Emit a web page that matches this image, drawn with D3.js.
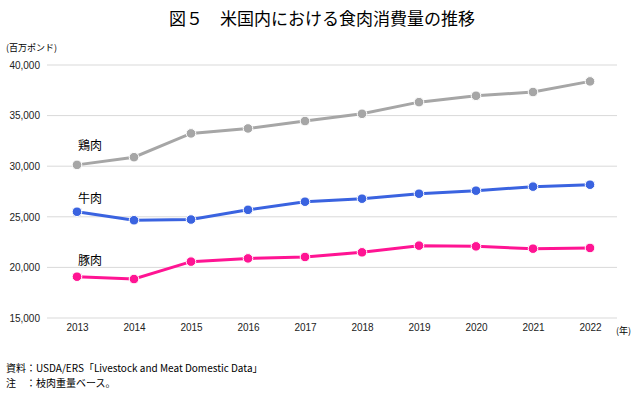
<!DOCTYPE html>
<html>
<head>
<meta charset="utf-8">
<script src="https://cdn.jsdelivr.net/npm/d3@7"></script>
<style>
  body { margin: 0; background: #fff; }
  svg { display: block; font-family: "Noto Sans CJK JP", "Noto Sans", sans-serif; }
</style>
</head>
<body>
<script>
// years on the x axis
var years = [2013, 2014, 2015, 2016, 2017, 2018, 2019, 2020, 2021, 2022]

// consumption, million pounds
var chicken = [30130, 30890, 33240, 33730, 34460, 35180, 36330, 36960, 37330, 38380]
var beef    = [25500, 24660, 24730, 25690, 26490, 26790, 27280, 27580, 27980, 28170]
var pork    = [19080, 18850, 20570, 20890, 21030, 21490, 22150, 22080, 21850, 21920]

var seriesNames = ["鶏肉", "牛肉", "豚肉"]
var yTicks = [15000, 20000, 25000, 30000, 35000, 40000]

var series = [
  {name: seriesNames[0], values: chicken, color: "#a6a6a6", labelY: 31650},
  {name: seriesNames[1], values: beef, color: "#3a63e0", labelY: 26350},
  {name: seriesNames[2], values: pork, color: "#ff1493", labelY: 20200}
]

var W = 640, H = 396

var svg = d3.select("body").append("svg")
    .attr("width", W)
    .attr("height", H)

var x = d3.scalePoint().domain(years).range([77, 590])
var y = d3.scaleLinear().domain([15000, 40000]).range([318, 65])

// title
svg.append("text")
    .attr("x", 322).attr("y", 25)
    .attr("text-anchor", "middle")
    .style("font-size", "17px")
    .style("font-weight", "400")
    .text("図５　米国内における食肉消費量の推移")

// unit label
svg.append("text")
    .attr("x", 6).attr("y", 51)
    .style("font-size", "9px")
    .text("(百万ポンド)")

// gridlines
svg.selectAll(".grid").data(yTicks).enter()
  .append("line")
    .attr("x1", 47).attr("x2", 617)
    .attr("y1", function(d){ return y(d) })
    .attr("y2", function(d){ return y(d) })
    .attr("stroke", "#d9d9d9")
    .attr("stroke-width", 1)

// y axis labels
var yAxis = d3.axisLeft(y).tickValues(yTicks).tickSize(0).tickPadding(0)
    .tickFormat(d3.format(","))
var gy = svg.append("g").attr("transform", "translate(40,0)").call(yAxis)
gy.select(".domain").remove()
gy.selectAll("text").style("font-size", "10px").style("font-family", "inherit").attr("fill", "#222")

// x axis labels
var xAxis = d3.axisBottom(x).tickSize(0).tickPadding(0)
var gx = svg.append("g").attr("transform", "translate(0,324)").call(xAxis)
gx.select(".domain").remove()
gx.selectAll("text").style("font-size", "10px").style("font-family", "inherit").attr("fill", "#222")

svg.append("text")
    .attr("x", 616).attr("y", 334)
    .style("font-size", "9px")
    .text("(年)")

var line = d3.line()
    .x(function(d, i){ return x(years[i]) })
    .y(function(d){ return y(d) })

var g = svg.selectAll(".series").data(series).enter().append("g")

g.append("path")
    .attr("d", function(s){ return line(s.values) })
    .attr("fill", "none")
    .attr("stroke", function(s){ return s.color })
    .attr("stroke-width", 3)

g.selectAll("circle")
    .data(function(s){ return s.values.map(function(v, i){ return {v: v, i: i, c: s.color} }) })
    .enter().append("circle")
    .attr("cx", function(d){ return x(years[d.i]) })
    .attr("cy", function(d){ return y(d.v) })
    .attr("r", 4.8)
    .attr("fill", function(d){ return d.c })
    .attr("stroke", "#fff")
    .attr("stroke-width", 1)

g.append("text")
    .attr("x", 78)
    .attr("y", function(s){ return y(s.labelY) })
    .style("font-size", "12px")
    .text(function(s){ return s.name })

// source and note
svg.append("text")
    .attr("x", 6).attr("y", 372)
    .style("font-size", "10px")
    .text("資料：USDA/ERS「Livestock and Meat Domestic Data」")

svg.append("text")
    .attr("x", 6).attr("y", 387)
    .style("font-size", "10px")
    .text("注　：枝肉重量ベース。")
</script>
</body>
</html>
